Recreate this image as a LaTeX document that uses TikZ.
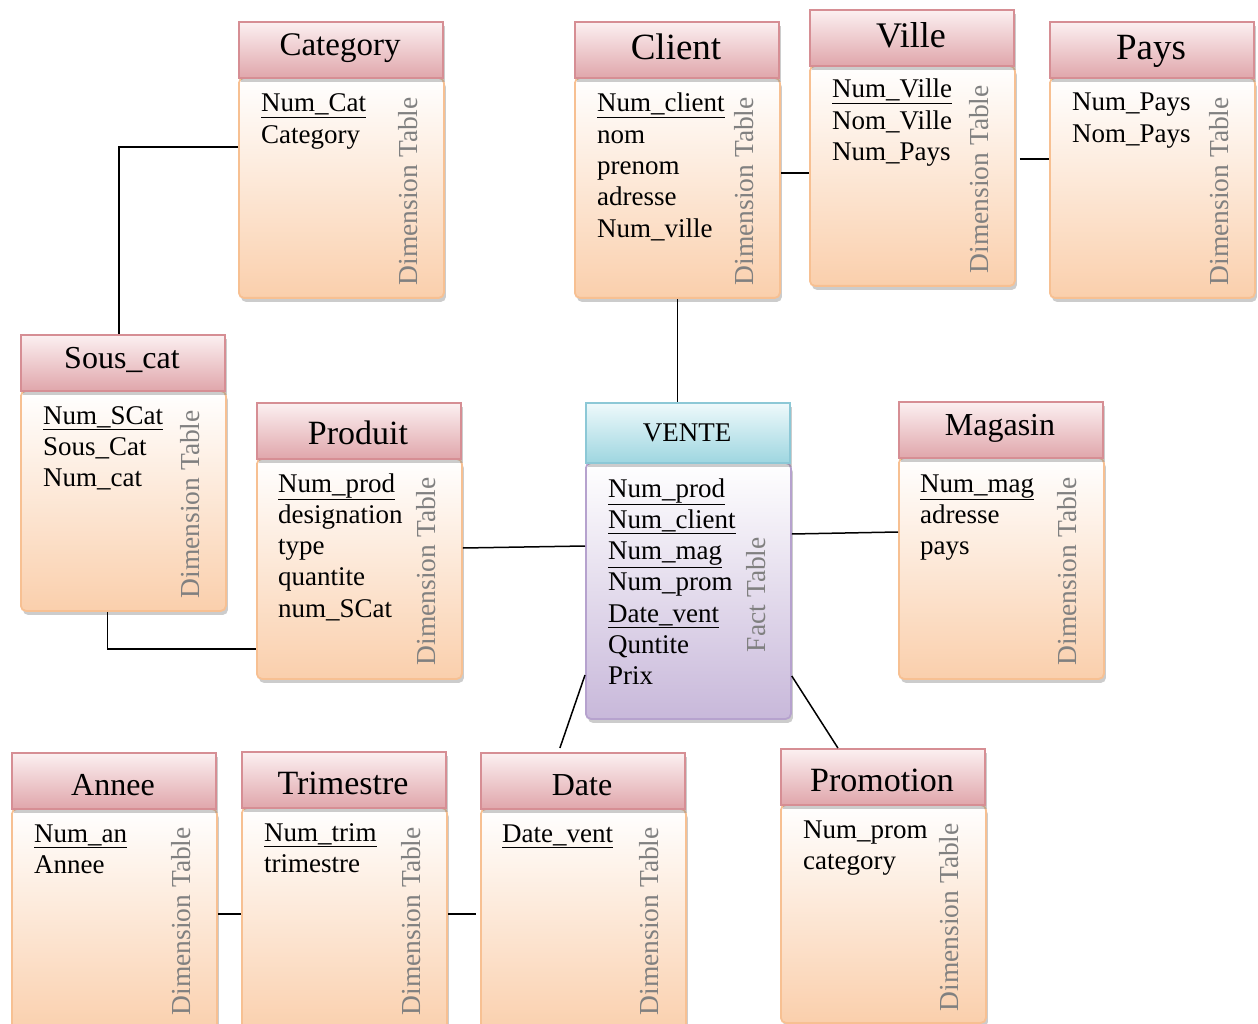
\documentclass[tikz,border=0pt]{standalone}
\usepackage{fontspec}
\setmainfont{Liberation Serif}
\usetikzlibrary{shadows,calc}
\definecolor{hdrTop}{RGB}{252,240,241}
\definecolor{hdrBot}{RGB}{224,166,171}
\definecolor{hdrLine}{RGB}{214,142,148}
\definecolor{bodyBot}{RGB}{250,207,172}
\definecolor{bodyLine}{RGB}{247,192,146}
\definecolor{fhTop}{RGB}{238,249,251}
\definecolor{fhBot}{RGB}{158,214,224}
\definecolor{fhLine}{RGB}{140,200,214}
\definecolor{fbBot}{RGB}{200,184,218}
\definecolor{fbLine}{RGB}{182,162,206}
\definecolor{lblGray}{RGB}{128,128,128}
\tikzset{
  shd/.style={drop shadow={shadow xshift=2pt, shadow yshift=-4pt, opacity=0.4}},
  hdrdim/.style={shd, draw=hdrLine, line width=1.8pt, top color=hdrTop, bottom color=hdrBot, inner sep=0pt},
  bodydim/.style={shd, draw=bodyLine, line width=1.8pt, top color=white, bottom color=bodyBot, rounded corners=5pt, inner sep=0pt},
  hdrfact/.style={shd, draw=fhLine, line width=1.8pt, top color=fhTop, bottom color=fhBot, inner sep=0pt},
  bodyfact/.style={shd, draw=fbLine, line width=1.8pt, top color=white, bottom color=fbBot, rounded corners=5pt, inner sep=0pt},
  ttl/.style={inner sep=0pt, text=black},
  fld/.style={anchor=base west, inner sep=0pt, font=\fontsize{27}{31}\selectfont},
  rl/.style={rotate=90, anchor=base east, inner sep=0pt, text=lblGray, font=\fontsize{27.5}{31}\selectfont},
  conn/.style={draw=black, line width=1.5pt}
}
% #1 name, #2 x0, #3 y0, #4 header bottom, #5 body bottom, #6 kind, #7 title size, #8 title, #9 title baseline
\newcommand\tbl[9]{%
  \node[body#6, minimum width=205pt, minimum height={(#5)-(#4)}, anchor=north west] (#1b) at (#2,#4) {};
  \node[hdr#6, minimum width=204pt, minimum height={(#4)-(#3)}, anchor=north west] (#1h) at (#2,#3) {};
  \node[ttl, font=\fontsize{#7}{#7}\selectfont, anchor=base] (#1t) at ({#2+102},#9) {#8};
}
\newcommand\flds[4]{%
  \foreach \t [count=\i] in {#4} {\node[fld] (#1f\i) at (#2,{#3+31.3*(\i-1)}) {\t};}%
}
\begin{document}
\begin{tikzpicture}[x=1pt,y=-1pt]
\useasboundingbox (0,0) rectangle (1258,1024);
\clip (0,0) rectangle (1258,1024);
\fill[white] (0,0) rectangle (1258,1024);

% tables
\tbl{cat}{238}{21}{77}{297}{dim}{33}{Category}{56}
\tbl{cl}{574}{21}{77}{297}{dim}{37}{Client}{60}
\tbl{vi}{809}{9}{65}{285}{dim}{36}{Ville}{48}
\tbl{pa}{1049}{21}{77}{297}{dim}{37}{Pays}{60}
\tbl{sc}{20}{334}{390}{610}{dim}{32}{Sous\_cat}{368}
\tbl{pr}{256}{402}{458}{678}{dim}{34}{Produit}{444}
\tbl{ve}{585}{402}{462}{718}{fact}{27}{VENTE}{441}
\tbl{ma}{898}{401}{457}{678}{dim}{32}{Magasin}{435}
\tbl{an}{11}{752}{808}{1034}{dim}{32}{Annee}{795}
\tbl{tr}{241}{751}{807}{1034}{dim}{34}{Trimestre}{794}
\tbl{da}{480}{752}{808}{1034}{dim}{32}{Date}{795}
\tbl{po}{780}{748}{804}{1022}{dim}{34}{Promotion}{791}

% fields
\flds{cat}{261}{112}{\underline{Num\_Cat},Category}
\flds{cl}{597}{112}{\underline{Num\_client},nom,prenom,adresse,Num\_ville}
\flds{vi}{832}{98}{\underline{Num\_Ville},Nom\_Ville,Num\_Pays}
\flds{pa}{1072}{111}{Num\_Pays,Nom\_Pays}
\flds{sc}{43}{424}{\underline{Num\_SCat},Sous\_Cat,Num\_cat}
\flds{pr}{278}{492}{\underline{Num\_prod},designation,type,quantite,num\_SCat}
\flds{ve}{608}{497}{\underline{Num\_prod},\underline{Num\_client},\underline{Num\_mag},Num\_prom,\underline{Date\_vent},Quntite,Prix}
\flds{ma}{920}{492}{\underline{Num\_mag},adresse,pays}
\flds{an}{34}{842}{\underline{Num\_an},Annee}
\flds{tr}{264}{841}{\underline{Num\_trim},trimestre}
\flds{da}{502}{842}{\underline{Date\_vent}}
\flds{po}{803}{838}{Num\_prom,category}

% rotated labels
\node[rl] (catr) at (417,97) {Dimension Table};
\node[rl] (clr) at (753,97) {Dimension Table};
\node[rl] (vir) at (988,85) {Dimension Table};
\node[rl] (par) at (1228,97) {Dimension Table};
\node[rl] (scr) at (199,410) {Dimension Table};
\node[rl] (prr) at (435,477) {Dimension Table};
\node[rl] (ver) at (765,537) {Fact Table};
\node[rl] (mar) at (1076,477) {Dimension Table};
\node[rl] (anr) at (190,827) {Dimension Table};
\node[rl] (trr) at (420,827) {Dimension Table};
\node[rl] (dar) at (658,827) {Dimension Table};
\node[rl] (por) at (958,823) {Dimension Table};

% connectors
\draw[conn] ($(catb.north west)+(0,70)$) -| ($(sch.north)+(-4,0)$);
\draw[conn] ($(scb.south)+(-16,0)$) |- ($(prb.north west)+(0,191)$);
\draw[conn] ($(clb.south)+(0,0)$) -- ($(clb.south |- veh.north)$);
\draw[conn] ($(clb.north east)+(0,96)$) -- ($(vib.north west)+(0,108)$);
\draw[conn] ($(vib.north east)+(4,94)$) -- ($(pab.north west)+(0,82)$);
\draw[conn] ($(prb.north east)+(0,90)$) -- ($(veb.north west)+(0,84)$);
\draw[conn] ($(veb.north east)+(0,72)$) -- ($(mab.north west)+(0,75)$);
\draw[conn] ($(veb.north west)+(0,213)$) -- ($(dah.north)+(-23,-4)$);
\draw[conn] ($(veb.north east)+(0,214)$) -- ($(poh.north)+(-45,0)$);
\draw[conn] ($(anb.north east)+(0,106)$) -- ($(trb.north west)+(0,107)$);
\draw[conn] ($(trb.north east)+(0,107)$) -- ($(dab.north west)+(-4,106)$);
\end{tikzpicture}
\end{document}
